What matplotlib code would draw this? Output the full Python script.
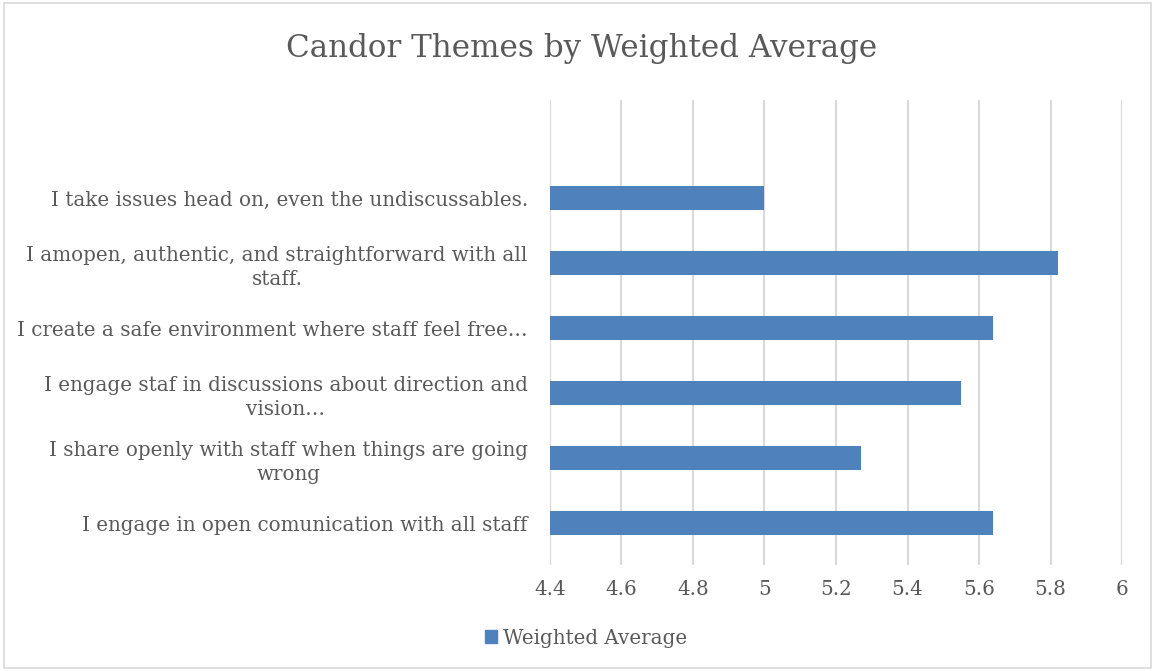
import matplotlib
matplotlib.use("Agg")
import matplotlib.pyplot as plt
from matplotlib.patches import Rectangle, Patch

######### Data #########

themes = [
    "I take issues head on, even the undiscussables.",
    "I amopen, authentic, and straightforward with all\nstaff.",
    "I create a safe environment where staff feel free\u2026",
    "I engage staf in discussions about direction and\nvision\u2026",
    "I share openly with staff when things are going\nwrong",
    "I engage in open comunication with all staff",
]
weighted_avg = [5.0, 5.82, 5.64, 5.55, 5.27, 5.64]
x_ticks = [4.4, 4.6, 4.8, 5.0, 5.2, 5.4, 5.6, 5.8, 6.0]
x_tick_labels = ["4.4", "4.6", "4.8", "5", "5.2", "5.4", "5.6", "5.8", "6"]

######### Style #########

text_col = "#595959"
bar_col = "#4f81bd"
grid_col = "#d9d9d9"
plt.rcParams['font.family'] = ['DejaVu Serif']

W, H = 1155, 671
fig = plt.figure(figsize=(W / 100, H / 100), dpi=100)

# light frame round the whole chart
fig.patches.append(Rectangle((4 / W, 3 / H), 1 - 8 / W, 1 - 6 / H,
                             transform=fig.transFigure, fill=False,
                             edgecolor=grid_col, linewidth=1.2))

# plot area in pixel terms
left, right, top, bottom = 550, 1122, 100, 565
ax = fig.add_axes([left / W, 1 - bottom / H, (right - left) / W, (bottom - top) / H])

pos = list(range(len(themes)))
ax.barh(pos, weighted_avg, height=0.355, left=0, color=bar_col, zorder=3)

ax.set_xlim(4.4, 6.0)
ax.set_ylim(5.646, -1.508)
ax.set_xticks(x_ticks)
ax.set_xticklabels(x_tick_labels)
ax.set_yticks(pos)
ax.set_yticklabels(themes, ha="right", multialignment="center", linespacing=1.3)

for s in ax.spines.values():
    s.set_visible(False)
ax.grid(axis="x", color=grid_col, linewidth=1.5, zorder=0)
ax.tick_params(axis="both", length=0, colors=text_col, labelsize=14.3)
ax.tick_params(axis="x", pad=11)
ax.tick_params(axis="y", pad=16)

fig.text(582 / W, 1 - 49 / H, "Candor Themes by Weighted Average",
         ha="center", va="center", fontsize=22.3, color=text_col)

fig.legend(handles=[Patch(color=bar_col, label="Weighted Average")],
           loc="center", bbox_to_anchor=(586 / W, 1 - 638 / H),
           frameon=False, fontsize=14.3, labelcolor=text_col,
           handlelength=0.65, handleheight=0.65, handletextpad=0.3)

fig.savefig("out.png", dpi=100)
